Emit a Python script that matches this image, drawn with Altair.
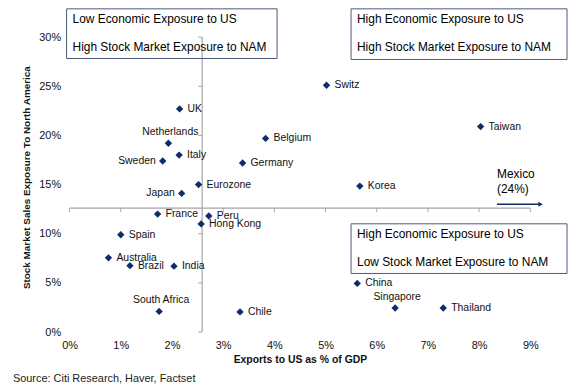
import altair as alt
import pandas as pd

# ---- data (values in %) ----
countries = ["UK", "Netherlands", "Italy", "Sweden", "Belgium", "Germany", "Eurozone",
             "Japan", "Switz", "Taiwan", "Korea", "France", "Peru", "Hong Kong", "Spain",
             "Australia", "Brazil", "India", "South Africa", "Chile", "China",
             "Singapore", "Thailand"]
exports_to_us = [2.15, 1.93, 2.14, 1.82, 3.83, 3.38, 2.52,
                 2.19, 5.02, 8.03, 5.67, 1.72, 2.72, 2.57, 1.00,
                 0.76, 1.18, 2.04, 1.75, 3.33, 5.62,
                 6.36, 7.30]
sales_exposure = [22.7, 19.2, 18.0, 17.4, 19.7, 17.2, 15.0,
                  14.1, 25.1, 20.9, 14.85, 12.0, 11.8, 11.0, 9.9,
                  7.55, 6.75, 6.7, 2.1, 2.05, 4.95,
                  2.45, 2.45]

labels_left = ["Sweden", "Japan"]
labels_above = ["Netherlands", "South Africa", "Singapore"]

x_ticks = [0, 1, 2, 3, 4, 5, 6, 7, 8, 9]
y_ticks = [0, 5, 10, 15, 20, 25, 30]
x_cross = 2.59   # where the vertical axis line sits
y_cross = 12.6   # where the horizontal axis line sits

mexico_label = ["Mexico", "(24%)"]
mexico_y = 13.0
mexico_arrow = [8.35, 9.2]

quadrant_text = {
    "tl": ["Low Economic Exposure to US", "High Stock Market Exposure to NAM"],
    "tr": ["High Economic Exposure to US", "High Stock Market Exposure to NAM"],
    "br": ["High Economic Exposure to US", "Low Stock Market Exposure to NAM"],
}

NAVY = "#0f2d6b"
BOX = "#4a5a7a"
AXIS = "#a6a6a6"
FONT = "Liberation Sans"

df = pd.DataFrame({"country": countries, "x": exports_to_us, "y": sales_exposure})

XS = alt.Scale(domain=[0, 9], nice=False, zero=False)
YS = alt.Scale(domain=[0, 30], nice=False, zero=False)

x_axis = alt.Axis(values=x_ticks, labelExpr="datum.value + '%'", domain=False, ticks=False,
                  tickSize=0, grid=False, labelFontSize=11, labelColor="#111", labelPadding=8,
                  labelFlush=False,
                  title="Exports to US as % of GDP", titleFontSize=10.5, titleFontWeight="bold",
                  titleColor="#111", titleY=28, titleBaseline="middle", labelFont=FONT, titleFont=FONT)
y_axis = alt.Axis(values=y_ticks, labelExpr="datum.value + '%'", domain=False, ticks=False,
                  tickSize=0, grid=False, labelFontSize=11, labelColor="#111", labelPadding=9,
                  labelFlush=False,
                  title="Stock Market Sales Exposure To North America", titleFontSize=10,
                  titleFontWeight="bold", titleColor="#111", titleX=-43, titleY=141,
                  titleBaseline="middle", titleAlign="center", labelFont=FONT, titleFont=FONT)

# axis cross lines
h_line = alt.Chart(pd.DataFrame({"x": [0], "x2": [9], "y": [y_cross]})).mark_rule(
    color=AXIS, strokeWidth=1.2).encode(
    x=alt.X("x:Q", scale=XS, axis=x_axis), x2="x2:Q", y=alt.Y("y:Q", scale=YS, axis=y_axis))
v_line = alt.Chart(pd.DataFrame({"x": [x_cross], "y": [0], "y2": [30]})).mark_rule(
    color=AXIS, strokeWidth=1.2).encode(
    x=alt.X("x:Q", scale=XS), y=alt.Y("y:Q", scale=YS), y2="y2:Q")
h_ticks = alt.Chart(pd.DataFrame({"x": x_ticks, "y": [y_cross] * len(x_ticks)})).mark_rule(
    color=AXIS, strokeWidth=1, y2Offset=4).encode(
    x=alt.X("x:Q", scale=XS), y=alt.Y("y:Q", scale=YS), y2="y:Q")
v_ticks = alt.Chart(pd.DataFrame({"x": [x_cross] * len(y_ticks), "y": y_ticks})).mark_rule(
    color=AXIS, strokeWidth=1, x2Offset=-4).encode(
    x=alt.X("x:Q", scale=XS), x2="x:Q", y=alt.Y("y:Q", scale=YS))

base = alt.Chart(df).encode(x=alt.X("x:Q", scale=XS), y=alt.Y("y:Q", scale=YS))
points = base.mark_point(shape="diamond", filled=True, size=55, color=NAVY, opacity=1)

txt = dict(font=FONT, fontSize=10.5, color="#111", baseline="middle")
lab_right = base.transform_filter(
    ~alt.FieldOneOfPredicate(field="country", oneOf=labels_left + labels_above)
).mark_text(align="left", dx=8, **txt).encode(text="country:N")
lab_left = base.transform_filter(
    alt.FieldOneOfPredicate(field="country", oneOf=labels_left)
).mark_text(align="right", dx=-7, **txt).encode(text="country:N")
lab_above = base.transform_filter(
    alt.FieldOneOfPredicate(field="country", oneOf=labels_above)
).mark_text(align="center", dx=2, dy=-11, **txt).encode(text="country:N")

# quadrant boxes (pixel positions relative to plot area)
one = pd.DataFrame({"a": [0]})
def box(x1, x2, y1, y2):
    return alt.Chart(one).mark_rect(fillOpacity=0, stroke=BOX, strokeWidth=1).encode(
        x=alt.value(x1), x2=alt.value(x2), y=alt.value(y1), y2=alt.value(y2))

def box_text(s, x, y):
    return alt.Chart(one).mark_text(align="left", baseline="middle", font=FONT,
                                    fontSize=12, color="#000").encode(
        x=alt.value(x), y=alt.value(y), text=alt.value(s))

boxes = [
    box(-3, 209, -28.5, 21.5),
    box_text(quadrant_text["tl"][0], 3, -18.5),
    box_text(quadrant_text["tl"][1], 3, 9.5),
    box(283.5, 501, -28.5, 22.5),
    box_text(quadrant_text["tr"][0], 289.5, -18.5),
    box_text(quadrant_text["tr"][1], 289.5, 9.5),
    box(283.5, 501, 188, 238),
    box_text(quadrant_text["br"][0], 289.5, 198.5),
    box_text(quadrant_text["br"][1], 289.5, 226.5),
    alt.Chart(one).mark_text(align="left", baseline="middle", font=FONT, fontSize=11,
                             color="#222").encode(
        x=alt.value(-57), y=alt.value(344),
        text=alt.value("Source: Citi Research, Haver, Factset")),
]

# Mexico annotation
mex = pd.DataFrame({"x": [mexico_arrow[0]], "x2": [mexico_arrow[1]], "y": [mexico_y]})
mex_arrow = alt.Chart(mex).mark_rule(color=NAVY, strokeWidth=1.6).encode(
    x=alt.X("x:Q", scale=XS), x2="x2:Q", y=alt.Y("y:Q", scale=YS))
mex_head = alt.Chart(mex).mark_point(shape="triangle-right", filled=True, size=25,
                                     color=NAVY, opacity=1).encode(
    x=alt.X("x2:Q", scale=XS), y=alt.Y("y:Q", scale=YS))
mex_t1 = alt.Chart(mex).mark_text(align="left", baseline="middle", font=FONT, fontSize=12,
                                  color="#000", dy=-30).encode(
    x=alt.X("x:Q", scale=XS), y=alt.Y("y:Q", scale=YS), text=alt.value(mexico_label[0]))
mex_t2 = alt.Chart(mex).mark_text(align="left", baseline="middle", font=FONT, fontSize=12,
                                  color="#000", dy=-15).encode(
    x=alt.X("x:Q", scale=XS), y=alt.Y("y:Q", scale=YS), text=alt.value(mexico_label[1]))

chart = alt.layer(
    h_line, v_line, h_ticks, v_ticks, points, lab_right, lab_left, lab_above,
    mex_arrow, mex_head, mex_t1, mex_t2, *boxes
).properties(
    width=464, height=297,
    autosize=alt.AutoSizeParams(type="none"),
    padding={"left": 62, "top": 28, "right": 39, "bottom": 53},
    background="white",
).configure_view(stroke=None)

chart.save("out.html", embed_options={"renderer": "svg", "actions": False})
